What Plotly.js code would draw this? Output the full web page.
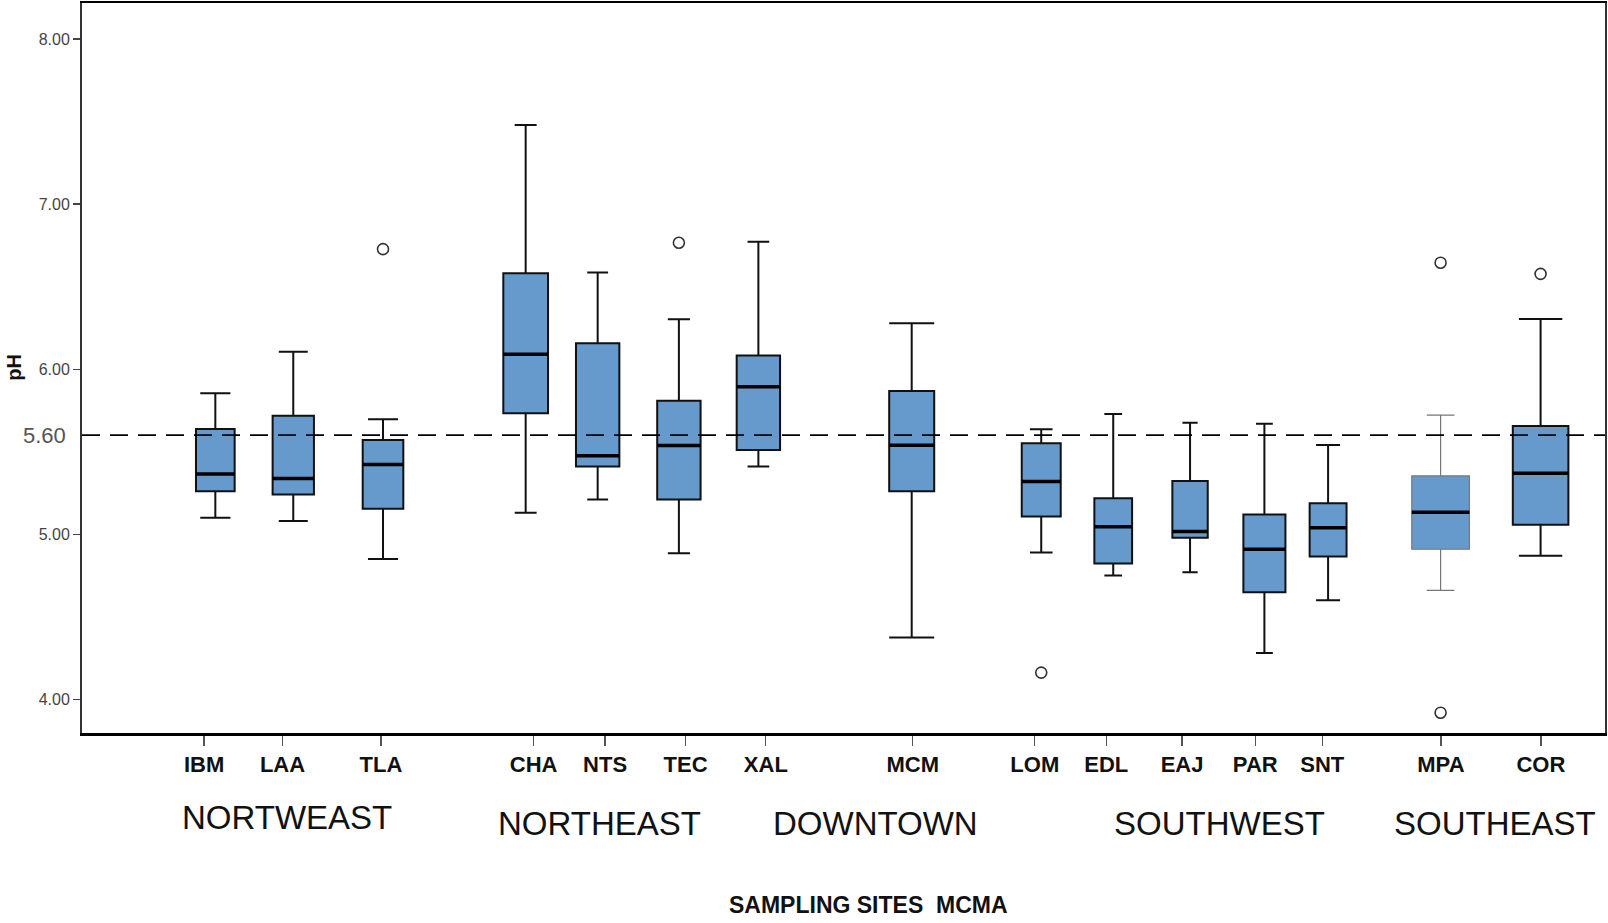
<!DOCTYPE html>
<html>
<head>
<meta charset="utf-8">
<script src="https://cdn.plot.ly/plotly-3.0.1.min.js"></script>
<style>
html,body{margin:0;padding:0;background:#fff;}
#chart{width:1608px;height:923px;}
</style>
</head>
<body>
<div id="chart"></div>
<script>
// ---------- DATA (pH per sampling site) ----------
const sites   = ['IBM','LAA','TLA','CHA','NTS','TEC','XAL','MCM','LOM','EDL','EAJ','PAR','SNT','MPA','COR'];
const lowerW  = [5.10, 5.08, 4.85, 5.13, 5.21, 4.885, 5.41, 4.375, 4.89, 4.75, 4.77, 4.28, 4.60, 4.66, 4.87];
const q1Vals  = [5.26, 5.24, 5.155, 5.733, 5.41, 5.21, 5.51, 5.26, 5.107, 4.822, 4.978, 4.649, 4.865, 4.909, 5.058];
const medians = [5.365, 5.337, 5.422, 6.09, 5.476, 5.537, 5.894, 5.539, 5.319, 5.046, 5.016, 4.909, 5.04, 5.133, 5.369];
const q3Vals  = [5.638, 5.717, 5.571, 6.581, 6.157, 5.809, 6.082, 5.868, 5.551, 5.218, 5.323, 5.119, 5.188, 5.353, 5.656];
const upperW  = [5.854, 6.106, 5.697, 7.479, 6.585, 6.302, 6.772, 6.278, 5.636, 5.729, 5.676, 5.67, 5.541, 5.721, 6.304];
const outlierSites = ['TLA','TEC','LOM','MPA','MPA','COR'];
const outlierVals  = [6.727, 6.766, 4.162, 6.645, 3.919, 6.577];
const refValue = 5.60;
const regions = ['NORTWEAST','NORTHEAST','DOWNTOWN','SOUTHWEST','SOUTHEAST'];
const yTicks = [4, 5, 6, 7, 8];

// ---------- LAYOUT CONSTANTS (positions / sizes / styles) ----------
const boxCenter = [210, 286, 373.5, 512.6, 582.8, 662, 739.5, 889, 1015.3, 1085.5, 1160.4, 1232.9, 1295, 1404.7, 1502.2];
const tickPos   = [199, 275.5, 371.5, 520.4, 590, 668.5, 746.8, 890, 1009, 1078.7, 1152.6, 1224, 1289.3, 1405, 1502.5];
const boxWidth  = [37.7, 40.3, 39.6, 43.6, 42.3, 42.3, 42.3, 43.9, 38, 36.8, 34.5, 41, 36, 56.2, 54.2];
const capRatio  = [0.78, 0.70, 0.74, 0.49, 0.48, 0.51, 0.50, 1.0, 0.58, 0.47, 0.43, 0.40, 0.65, 0.48, 0.78];
const regionX   = [280, 585, 854, 1189, 1458];
const regionY   = [-0.1164, -0.1233, -0.1233, -0.1233, -0.1233];
const FILL = '#6699CC';
const FONT = 'Arial, "Liberation Sans", sans-serif';

const traces = [];
sites.forEach((s, i) => {
  const thin = (s === 'MPA');
  traces.push({
    type: 'box',
    name: s,
    x: [boxCenter[i]],
    q1: [q1Vals[i]], median: [medians[i]], q3: [q3Vals[i]],
    lowerfence: [lowerW[i]], upperfence: [upperW[i]],
    width: boxWidth[i],
    whiskerwidth: capRatio[i],
    fillcolor: FILL,
    line: {color: thin ? '#777' : '#111', width: thin ? 1.2 : 2},
    boxpoints: false,
    showlegend: false,
    hoverinfo: 'skip'
  });
});

// thick median bars drawn from the median values
const mx = [], my = [];
sites.forEach((s, i) => {
  mx.push(boxCenter[i] - boxWidth[i] / 2, boxCenter[i] + boxWidth[i] / 2, null);
  my.push(medians[i], medians[i], null);
});
traces.push({type: 'scatter', mode: 'lines', x: mx, y: my,
  line: {color: '#000', width: 3.5}, showlegend: false, hoverinfo: 'skip'});

// outliers
traces.push({
  type: 'scatter', mode: 'markers',
  x: outlierSites.map(s => boxCenter[sites.indexOf(s)]),
  y: outlierVals,
  marker: {symbol: 'circle-open', size: 11, color: '#333', line: {width: 1.6, color: '#333'}},
  showlegend: false, hoverinfo: 'skip'
});

const annotations = regions.map((r, i) => ({
  text: r, xref: 'x', yref: 'paper', x: regionX[i], y: regionY[i],
  xanchor: 'center', yanchor: 'middle', showarrow: false,
  font: {family: FONT, size: 33, color: '#111'}
}));
annotations.push({
  text: 'SAMPLING SITES  MCMA', xref: 'x', yref: 'paper', x: 847, y: -0.2363,
  xanchor: 'center', yanchor: 'middle', showarrow: false,
  font: {family: FONT, size: 23, color: '#111', weight: 'bold'}
});
annotations.push({
  text: 'pH', xref: 'paper', yref: 'paper', x: -0.0444, y: 0.501,
  xanchor: 'center', yanchor: 'middle', showarrow: false, textangle: -90,
  font: {family: FONT, size: 20, color: '#111', weight: 'bold'}
});
annotations.push({
  text: refValue.toFixed(2), xref: 'paper', yref: 'y', x: -0.0246, y: refValue,
  xanchor: 'center', yanchor: 'middle', showarrow: false,
  font: {family: FONT, size: 22, color: '#555'}
});

const layout = {
  width: 1608, height: 923,
  margin: {l: 82, r: 3, t: 3, b: 190},
  paper_bgcolor: '#fff', plot_bgcolor: '#fff',
  font: {family: FONT},
  xaxis: {
    range: [80, 1565], tickmode: 'array', tickvals: tickPos, ticktext: sites,
    ticks: 'outside', ticklen: 10, tickwidth: 1.2, tickcolor: '#555',
    tickfont: {family: FONT, size: 22, color: '#111', weight: 'bold'},
    ticklabelstandoff: 0,
    showline: true, linewidth: 2.5, linecolor: '#000', mirror: true,
    showgrid: false, zeroline: false
  },
  yaxis: {
    range: [3.796, 8.218], tickmode: 'array', tickvals: yTicks,
    ticktext: yTicks.map(v => v.toFixed(2)),
    ticks: 'outside', ticklen: 7, tickwidth: 1.2, tickcolor: '#444',
    tickfont: {family: FONT, size: 16, color: '#444'},
    showline: true, linewidth: 2, linecolor: '#333', mirror: true,
    showgrid: false, zeroline: false
  },
  shapes: [{
    type: 'line', xref: 'paper', yref: 'y', x0: 0, x1: 1, y0: refValue, y1: refValue,
    line: {color: '#000', width: 1.8, dash: '18px,10px'}, layer: 'above'
  }],
  annotations: annotations,
  showlegend: false
};

Plotly.newPlot('chart', traces, layout, {staticPlot: true, displayModeBar: false});
</script>
</body>
</html>
